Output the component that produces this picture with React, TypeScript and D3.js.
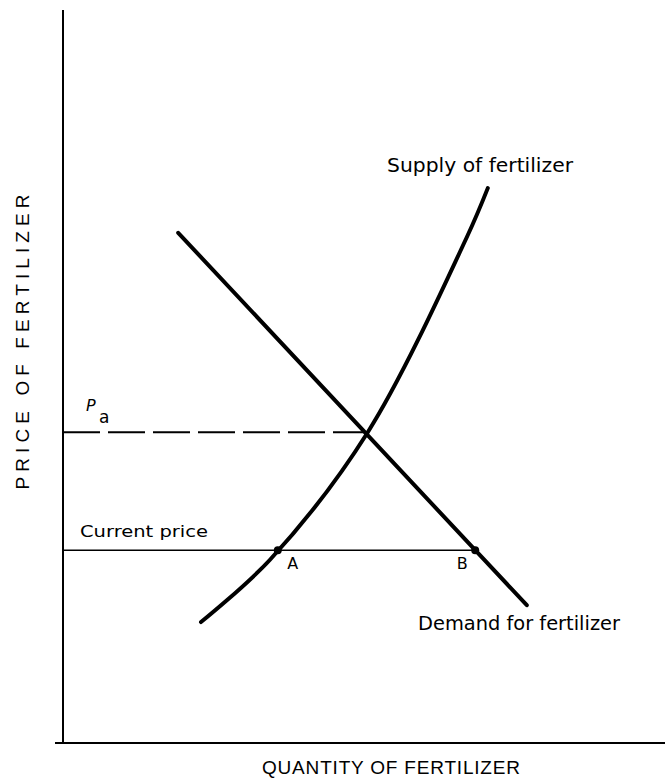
import React from 'react';
import * as d3 from 'd3';

// values (0-100 on both axes)
const demandQty = [19.2, 77.3];
const demandPrice = [69.6, 18.8];
const supplyQty = [23, 34.5, 50.8, 67.3, 70.8];
const supplyPrice = [16.5, 25, 42.4, 69, 75.7];
const pricePa = 42.4;
const priceCurrent = 26.3;
const pointNames = ['A', 'B'];
const pointQty = [35.8, 68.7];

const width = 665;
const height = 782;
const origin = { x: 63, y: 743 };

const x = d3.scaleLinear().domain([0, 100]).range([origin.x, 663]);
const y = d3.scaleLinear().domain([0, 100]).range([origin.y, 10]);

const font = '"DejaVu Sans", Verdana, sans-serif';
const titleFont = '"Liberation Sans", Arial, sans-serif';

export default function App() {
  const line = d3.line<[number, number]>()
    .x(d => x(d[0]))
    .y(d => y(d[1]));
  const curve = d3.line<[number, number]>()
    .x(d => x(d[0]))
    .y(d => y(d[1]))
    .curve(d3.curveCatmullRom.alpha(0.5));

  const demand = demandQty.map((q, i) => [q, demandPrice[i]] as [number, number]);
  const supply = supplyQty.map((q, i) => [q, supplyPrice[i]] as [number, number]);
  const crossQty = supplyQty[2];

  return (
    <svg width={width} height={height}
      style={{ position: 'absolute', left: 0, top: 0, background: '#fff' }}>
      {/* axes */}
      <line x1={origin.x} y1={y(100)} x2={origin.x} y2={origin.y} stroke="#000" strokeWidth={2} />
      <line x1={origin.x - 8} y1={origin.y} x2={width} y2={origin.y} stroke="#000" strokeWidth={2} />

      {/* Pa dashed line */}
      <line x1={origin.x} y1={y(pricePa)} x2={x(crossQty)} y2={y(pricePa)}
        stroke="#000" strokeWidth={2} strokeDasharray="37,8" />
      <text x={86} y={411} fontFamily={font} fontSize={16} fontStyle="italic">P</text>
      <text x={99} y={423} fontFamily={font} fontSize={17}>a</text>

      {/* current price */}
      <line x1={origin.x} y1={y(priceCurrent)} x2={x(pointQty[1])} y2={y(priceCurrent)}
        stroke="#000" strokeWidth={1.5} />
      <text x={80} y={537} fontFamily={font} fontSize={16} textLength={128} lengthAdjust="spacingAndGlyphs">Current price</text>

      {/* curves */}
      <path d={line(demand) || ''} fill="none" stroke="#000" strokeWidth={4} strokeLinecap="round" />
      <path d={curve(supply) || ''} fill="none" stroke="#000" strokeWidth={4} strokeLinecap="round" />

      {/* points */}
      {pointQty.map((q, i) => (
        <g key={pointNames[i]}>
          <circle cx={x(q)} cy={y(priceCurrent)} r={4} fill="#000" />
          <text x={x(q) + (i === 0 ? 15 : -13)} y={y(priceCurrent) + 19} textAnchor="middle"
            fontFamily={font} fontSize={16}>{pointNames[i]}</text>
        </g>
      ))}

      {/* curve labels */}
      <text x={387} y={172} fontFamily={font} fontSize={19} textLength={186} lengthAdjust="spacingAndGlyphs">Supply of fertilizer</text>
      <text x={418} y={630} fontFamily={font} fontSize={19} textLength={202} lengthAdjust="spacingAndGlyphs">Demand for fertilizer</text>

      {/* axis titles */}
      <text transform={`translate(29,342) rotate(-90)`} textAnchor="middle" fontFamily={titleFont}
        fontSize={19} textLength={295} lengthAdjust="spacing">PRICE OF FERTILIZER</text>
      <text x={391} y={774} textAnchor="middle" fontFamily={titleFont} fontSize={19}
        textLength={258} lengthAdjust="spacing">QUANTITY OF FERTILIZER</text>
    </svg>
  );
}
